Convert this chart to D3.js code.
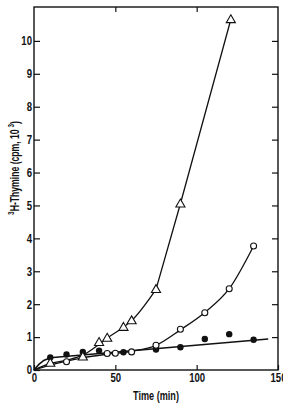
<!DOCTYPE html>
<html>
<head>
<meta charset="utf-8">
<script src="https://cdn.jsdelivr.net/npm/d3@7"></script>
<style>
  html, body { margin: 0; padding: 0; background: #fff; }
  svg text { font-family: 'Liberation Sans', Arial, sans-serif; fill: #111; }
</style>
</head>
<body>
<div id="chart"></div>
<script>
// measured points (time in min, cpm x 10^3)
var triT = [10, 30, 40, 45, 55, 60, 75, 90, 121];
var triY = [0.21, 0.4, 0.84, 0.97, 1.3, 1.5, 2.45, 5.05, 10.65];
var openT = [20, 45, 50, 60, 75, 90, 105, 120, 135];
var openY = [0.25, 0.5, 0.51, 0.55, 0.75, 1.24, 1.74, 2.47, 3.77];
var fillT = [10, 20, 30, 40, 55, 75, 90, 105, 120, 135];
var fillY = [0.38, 0.47, 0.55, 0.59, 0.54, 0.62, 0.69, 0.94, 1.09, 0.92];

// hand-drawn curves through the points
var triCurveT = [0, 10, 20, 30, 40, 45, 55, 60, 75];
var triCurveY = [0, 0.2, 0.3, 0.45, 0.78, 0.97, 1.3, 1.5, 2.45];
var triLineT = [75, 90, 121];
var triLineY = [2.45, 5.05, 10.65];
var openFitT = [0, 10, 20, 30, 45, 60, 75, 90, 105, 120, 135];
var openFitY = [0, 0.15, 0.27, 0.37, 0.48, 0.57, 0.75, 1.22, 1.75, 2.47, 3.77];
var fillFitT = [0, 3, 6, 10, 144];
var fillFitY = [0, 0.17, 0.29, 0.37, 0.94];

var xTicks = [0, 50, 100, 150];
var yTicks = [0, 1, 2, 3, 4, 5, 6, 7, 8, 9, 10];

var width = 283, height = 403;
var margin = { top: 7, right: 5, bottom: 33, left: 34 };
var iw = width - margin.left - margin.right;
var ih = height - margin.top - margin.bottom;
var squeeze = 0.8; // the original lettering is narrow

var x = d3.scaleLinear().domain([0, 150]).range([0, iw]);
var y = d3.scaleLinear().domain([0, 11.03]).range([ih, 0]);

var svg = d3.select('#chart').append('svg').attr('width', width).attr('height', height);
var g = svg.append('g').attr('transform', 'translate(' + margin.left + ',' + margin.top + ')');

function zip(a, b) { return a.map(function (v, i) { return [v, b[i]]; }); }

var ink = '#111';

// axes, ticks pointing inward
var xb = g.append('g').attr('transform', 'translate(0,' + ih + ')')
  .call(d3.axisBottom(x).tickValues(xTicks).tickSize(-5).tickPadding(3).tickFormat(d3.format('d')));
g.append('g')
  .call(d3.axisTop(x).tickValues([50, 100]).tickSize(-5).tickFormat(''));
var yl = g.append('g')
  .call(d3.axisLeft(y).tickValues(yTicks).tickSize(-6).tickPadding(2).tickFormat(d3.format('d')));
g.append('g').attr('transform', 'translate(' + iw + ',0)')
  .call(d3.axisRight(y).tickValues(yTicks.slice(1)).tickSize(-6).tickFormat(''));
g.selectAll('.domain').remove();
g.selectAll('.tick line').attr('stroke', ink).attr('stroke-width', 1.2);
g.selectAll('.tick text').attr('fill', ink).attr('font-size', 12).attr('font-weight', 'bold')
  .style('font-family', "'Liberation Sans', Arial, sans-serif");
xb.selectAll('.tick text').attr('transform', 'scale(' + squeeze + ',1)');
yl.selectAll('.tick text').attr('x', -2 / squeeze).attr('transform', 'scale(' + squeeze + ',1)');

g.append('rect').attr('x', 0).attr('y', 0).attr('width', iw).attr('height', ih)
  .attr('fill', 'none').attr('stroke', ink).attr('stroke-width', 1.4);

// curves
var line = d3.line().x(function (d) { return x(d[0]); }).y(function (d) { return y(d[1]); });
function drawCurve(data, curve, w) {
  g.append('path').datum(data).attr('d', line.curve(curve)(data))
    .attr('fill', 'none').attr('stroke', ink).attr('stroke-width', w);
}
drawCurve(zip(triCurveT, triCurveY), d3.curveMonotoneX, 1.3);
drawCurve(zip(triLineT, triLineY), d3.curveLinear, 1.3);
drawCurve(zip(openFitT, openFitY), d3.curveMonotoneX, 1.3);
drawCurve(zip(fillFitT, fillFitY), d3.curveLinear, 1.6);

// markers
g.selectAll('circle.fill').data(zip(fillT, fillY)).enter().append('circle')
  .attr('class', 'fill').attr('cx', function (d) { return x(d[0]); }).attr('cy', function (d) { return y(d[1]); })
  .attr('r', 3.2).attr('fill', ink);
g.selectAll('circle.open').data(zip(openT, openY)).enter().append('circle')
  .attr('class', 'open').attr('cx', function (d) { return x(d[0]); }).attr('cy', function (d) { return y(d[1]); })
  .attr('r', 3).attr('fill', '#fff').attr('stroke', ink).attr('stroke-width', 1.1);
var tri = d3.symbol().type(d3.symbolTriangle).size(36);
g.selectAll('path.tri').data(zip(triT, triY)).enter().append('path')
  .attr('class', 'tri').attr('d', tri)
  .attr('transform', function (d) { return 'translate(' + x(d[0]) + ',' + (y(d[1]) + 0.5) + ')'; })
  .attr('fill', '#fff').attr('stroke', ink).attr('stroke-width', 1.1);

// axis titles
svg.append('text').attr('transform', 'translate(' + (margin.left + x(75)) + ',400) scale(0.76,1)')
  .attr('text-anchor', 'middle').attr('font-size', 12).attr('font-weight', 'bold')
  .text('Time (min)');

var yt = svg.append('text').attr('transform', 'translate(19,168) rotate(-90) scale(0.72,1)')
  .attr('text-anchor', 'middle').attr('font-size', 12).attr('font-weight', 'bold');
yt.append('tspan').attr('font-size', 9).attr('dy', -5).text('3');
yt.append('tspan').attr('dy', 5).text('H-Thymine (cpm, 10');
yt.append('tspan').attr('font-size', 9).attr('dy', -5).text(' 3');
yt.append('tspan').attr('dy', 5).text(')');
</script>
</body>
</html>
